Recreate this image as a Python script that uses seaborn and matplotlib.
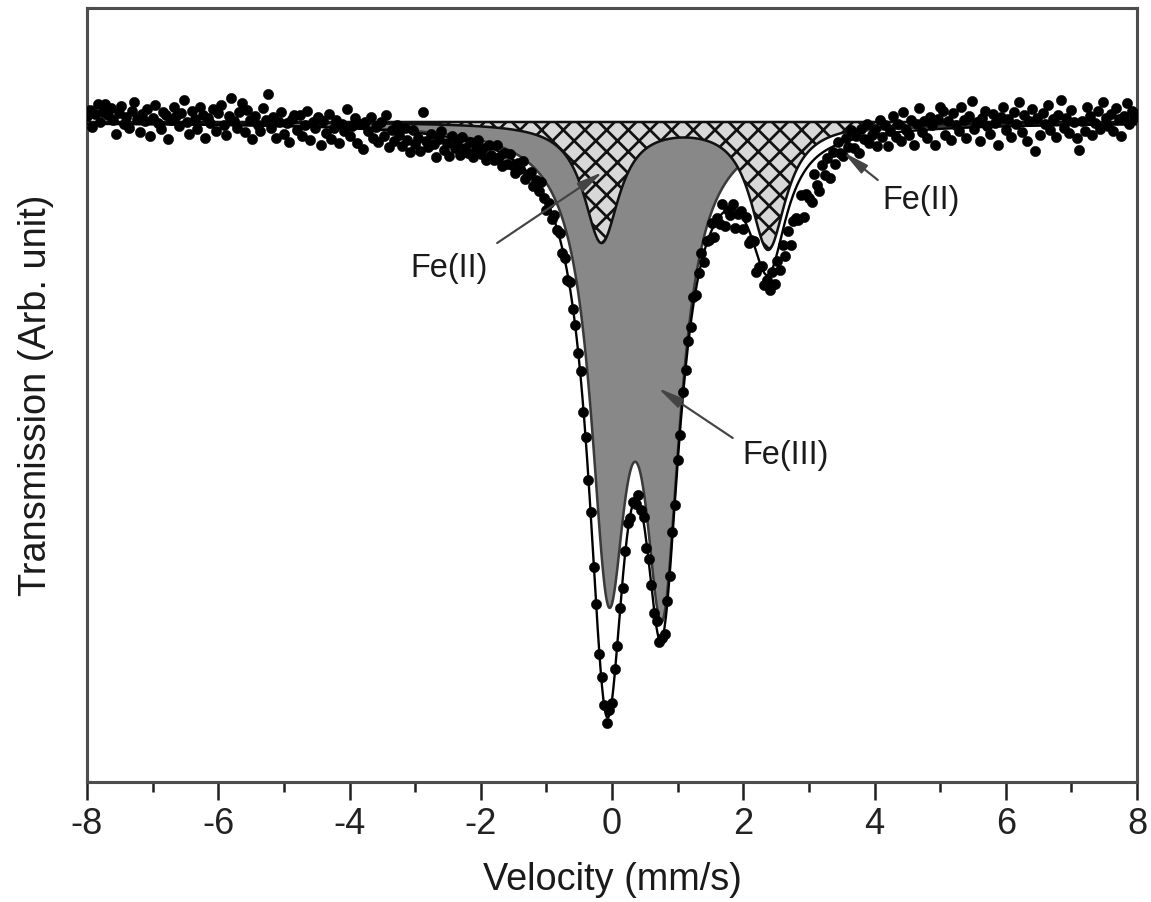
import numpy as np
import matplotlib
matplotlib.use("Agg")
import matplotlib.pyplot as plt
from matplotlib import font_manager as fm
import seaborn as sns

# ---------------- data ----------------
# Lorentzian doublet fit components (centre mm/s, depth in arb. units, HWHM mm/s)
fe3_centers = [-0.06, 0.76]
fe3_depths = [423, 440]
fe3_hwhm = [0.33, 0.33]
fe2_centers = [-0.16, 2.38]
fe2_depths = [119, 126]
fe2_hwhm = [0.33, 0.33]
baseline = 1000

# measured points: deviation of each channel from the fitted envelope
vel_min, vel_max = -8.0, 8.0
residuals = [
    8, 14, -3, 10, 20, 2, 12, 20, 9, 16,
    4, -10, 11, 18, 0, 7, -4, 13, 22, 5,
    -8, 10, 3, 15, -12, 6, 19, 1, -5, 12,
    9, -15, 4, 17, 8, -2, 11, 24, 3, -9,
    14, 6, -4, 18, 10, -13, 7, 2, 16, -6,
    12, 20, 0, -10, 9, 27, 4, -3, 13, 22,
    -7, 15, 5, -14, 10, 1, -5, 18, 6, 32,
    -2, 9, -12, 4, 14, -8, 3, -16, 7, 11,
    -4, 12, -9, 2, 16, -13, 5, -1, 10, -18,
    6, -6, 13, -11, 0, 8, -15, 4, -3, 19,
    -8, 2, 11, -14, 5, -20, 7, -2, 12, -9,
    3, -12, 8, -6, 15, -17, 1, -10, 6, -4,
    -15, 4, -8, -20, 2, -11, -5, -18, 22, -7,
    -13, 0, -9, -22, -3, 5, -14, -6, -19, 2,
    -10, -4, -16, 3, -8, -12, 0, -15, -6, 4,
    -9, -3, -14, 2, -7, -11, 5, -5, -13, 1,
    -8, 3, -6, -12, 0, -4, 6, -9, -2, 4,
    -7, 2, -5, 8, -3, -10, 3, -6, 5, -2,
    4, -5, 2, -7, 6, -3, 1, -4, 5, -6,
    3, -2, 7, -5, 2, -8, 4, 0, -6, 5,
    -3, 6, -1, 4, -7, 3, 8, -4, 2, -5,
    6, -2, 5, -8, 3, 1, -4, 7, -3, 2,
    -6, 4, -2, 6, -5, 3, -7, 5, -1, 4,
    -4, 8, -6, 2, 10, -9, 3, -3, 7, -12,
    2, -8, 9, -15, 0, -6, 5, -18, -2, 4,
    -10, 6, -14, -4, 3, -20, -7, 2, -12, -5,
    -16, -3, -22, -9, -28, -14, -35, -20, -42, -26,
    -30, -38, -18, -44, -25, -33, -40, -15, -28, -36,
    -12, -24, -8, -30, -5, -18, 2, -10, -14, 4,
    -6, 10, -9, 3, -15, 8, -2, 12, -7, 0,
    6, -11, 14, -3, 9, -13, 2, 17, -5, 8,
    -9, 20, 1, -4, 11, -14, 6, 22, -2, 9,
    -8, 13, 4, -16, 10, 22, 18, -6, 7, -12,
    15, 3, -3, 21, 8, -10, 12, 26, -2, 5,
    -14, 9, 16, 1, -7, 13, 4, -18, 10, 19,
    -4, 7, -11, 14, 2, 24, -6, 11, -15, 5,
    17, -25, 8, -9, 13, 1, 20, -5, 6, -12,
    10, 25, -3, 7, -8, 15, 3, -13, -25, 4,
    -6, 18, 9, -10, 2, 14, -4, 23, 7, -1,
    11, -7, 16, 5, -12, 8, 21, 0, 13, 6,
    10,
]

x_major_ticks = [-8, -6, -4, -2, 0, 2, 4, 6, 8]
x_minor_ticks = [-7, -5, -3, -1, 1, 3, 5, 7]
x_label = "Velocity (mm/s)"
y_label = "Transmission (Arb. unit)"

# annotations: text, text centre, arrow head, arrow tail
annot_texts = ["Fe(II)", "Fe(II)", "Fe(III)"]
annot_text_pos = [(-2.48, 854), (4.71, 922), (2.65, 667)]
annot_heads = [(-0.14, 950), (3.52, 970), (0.70, 734)]
annot_tails = [(-1.75, 879), (4.05, 942), (1.84, 684)]

# ---------------- model ----------------
def doublet(v, centers, depths, hwhm):
    out = np.zeros_like(v, dtype=float)
    for c, a, g in zip(centers, depths, hwhm):
        out += a * g**2 / ((v - c) ** 2 + g**2)
    return out

velocity = np.linspace(vel_min, vel_max, len(residuals))
v_fine = np.linspace(vel_min, vel_max, 1601)
fe3_fine = doublet(v_fine, fe3_centers, fe3_depths, fe3_hwhm)
fe2_fine = doublet(v_fine, fe2_centers, fe2_depths, fe2_hwhm)
total_fine = baseline - fe3_fine - fe2_fine
counts = (baseline - doublet(velocity, fe3_centers, fe3_depths, fe3_hwhm)
          - doublet(velocity, fe2_centers, fe2_depths, fe2_hwhm)
          + np.array(residuals, dtype=float))

# ---------------- style ----------------
sns.set_style("white")
names = {f.name for f in fm.fontManager.ttflist}
main_font = "Liberation Sans" if "Liberation Sans" in names else "DejaVu Sans"
tick_font = "Liberation Sans Narrow" if "Liberation Sans Narrow" in names else main_font
plt.rcParams["font.family"] = [main_font, "DejaVu Sans"]
plt.rcParams["axes.unicode_minus"] = False
plt.rcParams["hatch.color"] = "#111111"
plt.rcParams["hatch.linewidth"] = 1.5

DPI = 130
fig = plt.figure(figsize=(1151 / DPI, 902 / DPI), dpi=DPI)
ax = fig.add_axes([87 / 1151, 1 - 782 / 902, (1137 - 87) / 1151, (782 - 8) / 902])

# Fe(III) grey component
ax.fill_between(v_fine, baseline, baseline - fe3_fine, facecolor="#888888",
                edgecolor="#3a3a3a", linewidth=1.4, zorder=1)
# Fe(II) hatched component
ax.fill_between(v_fine, baseline, baseline - fe2_fine, facecolor="#d8d8d8",
                edgecolor="#111111", hatch="xx", linewidth=1.4, zorder=2)

# measured points and total fit
sns.scatterplot(x=velocity, y=counts, ax=ax, color="black", s=32,
                edgecolor="black", linewidth=0.3, zorder=3, legend=False)
sns.lineplot(x=v_fine, y=total_fine, ax=ax, color="black", linewidth=1.3,
             sort=False, estimator=None, zorder=4, legend=False)

# annotations
for txt, tpos, head, tail in zip(annot_texts, annot_text_pos, annot_heads, annot_tails):
    ax.text(tpos[0], tpos[1], txt, ha="center", va="center", fontsize=18,
            color="#1a1a1a", zorder=6)
    ax.annotate("", xy=head, xytext=tail,
                arrowprops=dict(arrowstyle="-|>,head_length=1.0,head_width=0.2",
                                mutation_scale=12, color="#444444", lw=1.2,
                                shrinkA=0, shrinkB=0),
                zorder=6)

ax.set_xlim(vel_min, vel_max)
ax.set_ylim(340, 1114)
ax.set_xticks(x_major_ticks)
ax.set_xticklabels([str(t) for t in x_major_ticks], fontfamily=tick_font)
ax.set_xticks(x_minor_ticks, minor=True)
ax.set_yticks([])
ax.tick_params(axis="x", which="major", direction="out", length=10, width=1.4,
               colors="#222222", labelsize=20, pad=4, bottom=True)
ax.tick_params(axis="x", which="minor", direction="out", length=5.5, width=1.4,
               colors="#222222", bottom=True)

for sp in ax.spines.values():
    sp.set_visible(True)
    sp.set_color("#4d4d4d")
    sp.set_linewidth(1.7)

ax.set_xlabel(x_label, fontsize=21, labelpad=11, color="#1a1a1a")
ax.set_ylabel(y_label, fontsize=21, labelpad=18, color="#1a1a1a")

fig.savefig("out.png", dpi=DPI)
